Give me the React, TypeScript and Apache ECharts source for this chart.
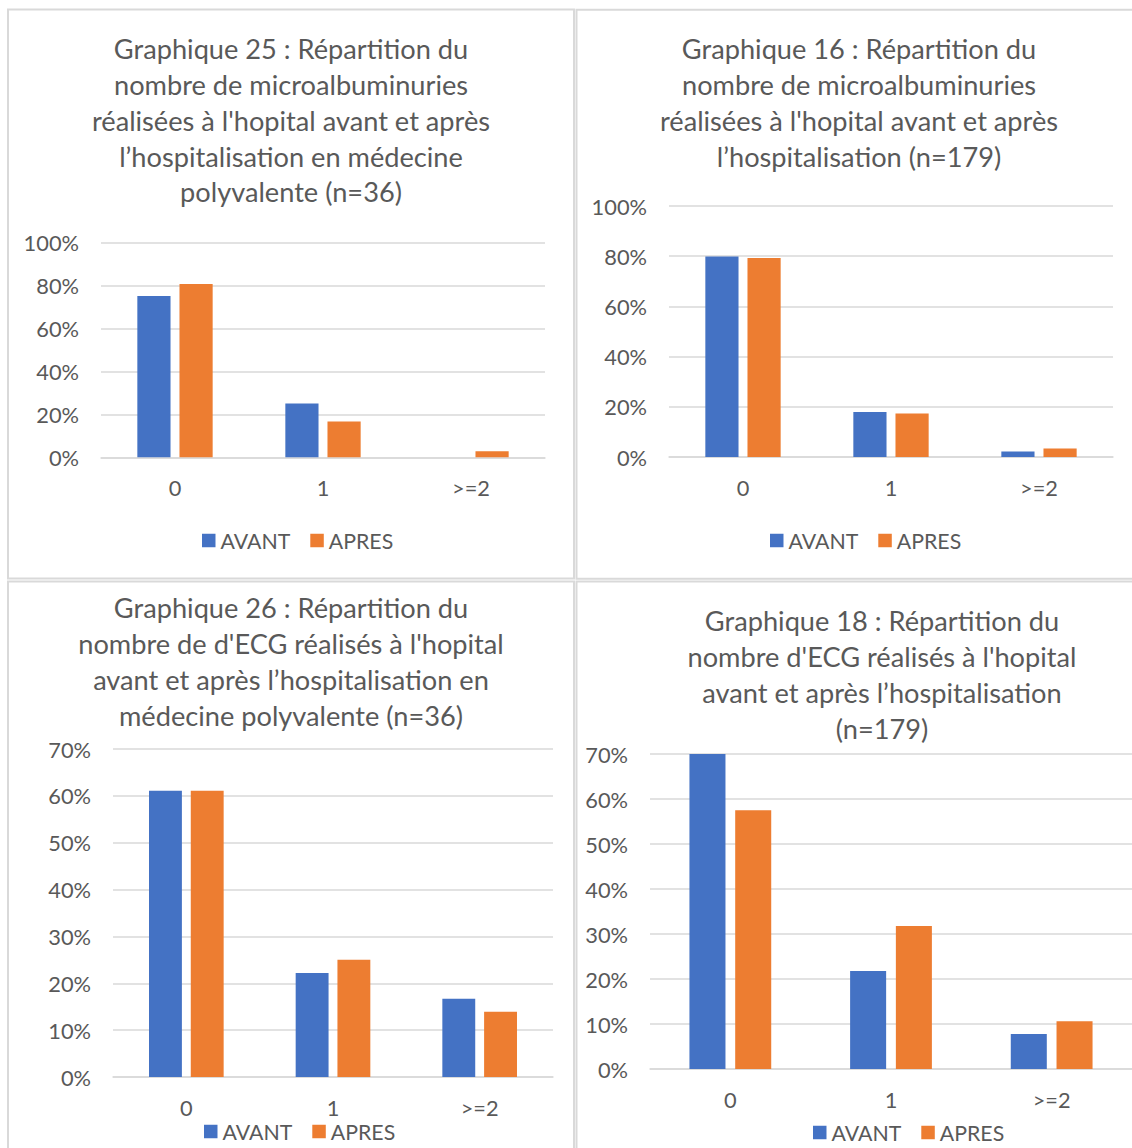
import React, { useEffect, useRef } from "react";
import * as echarts from "echarts";

const categories = ["0", "1", ">=2"];
const seriesNames = ["AVANT", "APRES"];

const chart25Avant = [75.0, 25.0, 0];
const chart25Apres = [80.6, 16.7, 2.8];
const chart16Avant = [79.9, 17.9, 2.2];
const chart16Apres = [79.3, 17.3, 3.4];
const chart26Avant = [61.1, 22.2, 16.7];
const chart26Apres = [61.1, 25.0, 13.9];
const chart18Avant = [70.4, 21.8, 7.8];
const chart18Apres = [57.5, 31.8, 10.6];

const title25 =
  "Graphique 25 : Répartition du\nnombre de microalbuminuries\nréalisées à l'hopital avant et après\nl’hospitalisation en médecine\npolyvalente (n=36)";
const title16 =
  "Graphique 16 : Répartition du\nnombre de microalbuminuries\nréalisées à l'hopital avant et après\nl’hospitalisation (n=179)";
const title26 =
  "Graphique 26 : Répartition du\nnombre de d'ECG réalisés à l'hopital\navant et après l’hospitalisation en\nmédecine polyvalente (n=36)";
const title18 =
  "Graphique 18 : Répartition du\nnombre d'ECG réalisés à l'hopital\navant et après l’hospitalisation\n(n=179)";

const yMax = [100, 100, 70, 70];
const yInterval = [20, 20, 10, 10];

const BLUE = "#4472C4";
const ORANGE = "#ED7D31";
const GRAY_TEXT = "#595959";
const GRID_LINE = "#D9D9D9";
const FONT = "Lato, 'Noto Sans', sans-serif";

export default function App() {
  const ref = useRef<HTMLDivElement>(null);

  useEffect(() => {
    if (!ref.current) return;
    const chart = echarts.init(ref.current, undefined, { renderer: "svg" });

    const panels = [
      { title: title25, tx: 291, ty: 31, grid: { left: 101, top: 242.3, width: 444, height: 215 }, legend: { left: 202, top: 530 }, avant: chart25Avant, apres: chart25Apres },
      { title: title16, tx: 859, ty: 31, grid: { left: 669, top: 206, width: 444, height: 251 }, legend: { left: 770, top: 530 }, avant: chart16Avant, apres: chart16Apres },
      { title: title26, tx: 291, ty: 590, grid: { left: 113, top: 749, width: 440, height: 328 }, legend: { left: 204, top: 1121 }, avant: chart26Avant, apres: chart26Apres },
      { title: title18, tx: 882, ty: 603, grid: { left: 650, top: 754, width: 483, height: 315 }, legend: { left: 813, top: 1122 }, avant: chart18Avant, apres: chart18Apres },
    ];

    const option: any = {
      animation: false,
      backgroundColor: "#ffffff",
      textStyle: { fontFamily: FONT },
      title: panels.map((p) => ({
        text: p.title,
        left: p.tx,
        top: p.ty,
        padding: 0,
        textAlign: "center",
        textVerticalAlign: "top",
        textStyle: {
          fontFamily: FONT,
          fontSize: 27.2,
          fontWeight: "normal",
          color: GRAY_TEXT,
          lineHeight: 35.75,
        },
      })),
      legend: panels.map((p) => ({
        left: p.legend.left,
        top: p.legend.top,
        padding: 0,
        orient: "horizontal",
        icon: "rect",
        itemWidth: 13.5,
        itemHeight: 13.5,
        itemGap: 20,
        data: seriesNames,
        selectedMode: false,
        textStyle: { fontFamily: FONT, fontSize: 21.3, color: GRAY_TEXT, padding: [0, 0, 0, 0] },
      })),
      grid: panels.map((p) => ({ ...p.grid, containLabel: false })),
      xAxis: panels.map((_, i) => ({
        type: "category",
        gridIndex: i,
        data: categories,
        axisLine: { show: true, lineStyle: { color: GRID_LINE, width: 1.5 } },
        axisTick: { show: false },
        axisLabel: { color: GRAY_TEXT, fontFamily: FONT, fontSize: 21.8, margin: 19 },
        splitLine: { show: false },
      })),
      yAxis: panels.map((_, i) => ({
        type: "value",
        gridIndex: i,
        min: 0,
        max: yMax[i],
        interval: yInterval[i],
        axisLine: { show: false },
        axisTick: { show: false },
        axisLabel: { color: GRAY_TEXT, fontFamily: FONT, fontSize: 21.8, margin: 22, formatter: "{value}%" },
        splitLine: { show: true, lineStyle: { color: GRID_LINE, width: 1.5 } },
      })),
      series: panels.flatMap((p, i) => [
        {
          name: "AVANT",
          type: "bar",
          xAxisIndex: i,
          yAxisIndex: i,
          data: p.avant,
          itemStyle: { color: BLUE },
          barGap: "27%",
          barCategoryGap: "49.1%",
          clip: true,
        },
        {
          name: "APRES",
          type: "bar",
          xAxisIndex: i,
          yAxisIndex: i,
          data: p.apres,
          itemStyle: { color: ORANGE },
          barGap: "27%",
          barCategoryGap: "49.1%",
          clip: true,
        },
      ]),
      graphic: [
        { type: "rect", shape: { x: 8, y: 9.5, width: 566, height: 569 }, style: { fill: "none", stroke: GRID_LINE, lineWidth: 2 }, silent: true },
        { type: "rect", shape: { x: 576.5, y: 9.7, width: 566, height: 569 }, style: { fill: "none", stroke: GRID_LINE, lineWidth: 2 }, silent: true },
        { type: "rect", shape: { x: 8, y: 581.5, width: 566, height: 600 }, style: { fill: "none", stroke: GRID_LINE, lineWidth: 2 }, silent: true },
        { type: "rect", shape: { x: 576.5, y: 581.5, width: 620, height: 600 }, style: { fill: "none", stroke: GRID_LINE, lineWidth: 2 }, silent: true },
      ],
    };

    chart.setOption(option);
    return () => chart.dispose();
  }, []);

  return (
    <div
      style={{
        position: "absolute",
        left: 0,
        top: 0,
        width: 1132,
        height: 1148,
        overflow: "hidden",
        background: "#ffffff",
      }}
    >
      <div ref={ref} style={{ width: 1132, height: 1148 }} />
    </div>
  );
}
